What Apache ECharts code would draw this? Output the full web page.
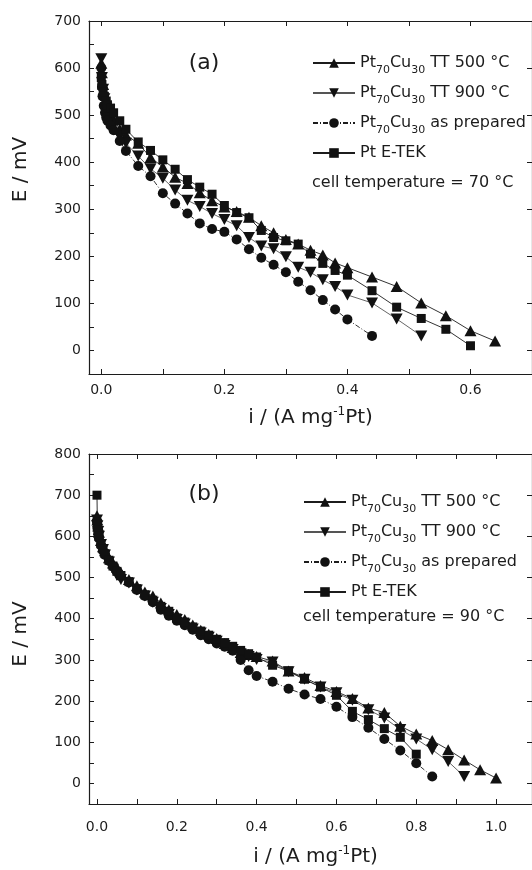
<!DOCTYPE html>
<html>
<head>
<meta charset="utf-8">
<title>Polarization curves</title>
<script src="https://cdn.jsdelivr.net/npm/echarts@6.0.0/dist/echarts.min.js"></script>
<style>
  html, body { margin: 0; padding: 0; background: #fff; }
  #chart { width: 532px; height: 870px; }
</style>
</head>
<body>
<div id="chart"></div>
<script>
// legend names, same four samples in both panels
const seriesNames = ["Pt70Cu30 TT 500 °C", "Pt70Cu30 TT 900 °C", "Pt70Cu30 as prepared", "Pt E-TEK"];
const legendRich = ["Pt{sub|70}Cu{sub|30} TT 500 °C", "Pt{sub|70}Cu{sub|30} TT 900 °C", "Pt{sub|70}Cu{sub|30} as prepared", "Pt E-TEK"];

// ---- panel (a), 70 °C ----
const xA_tt500 = [0, 0.001, 0.003, 0.005, 0.008, 0.01, 0.015, 0.02, 0.03, 0.04, 0.06, 0.08, 0.10, 0.12, 0.14, 0.16, 0.18, 0.20, 0.22, 0.24, 0.26, 0.28, 0.30, 0.32, 0.34, 0.36, 0.38, 0.40, 0.44, 0.48, 0.52, 0.56, 0.60, 0.64];
const yA_tt500 = [610, 590, 565, 545, 530, 515, 500, 490, 470, 458, 440, 410, 390, 368, 355, 335, 318, 305, 295, 283, 265, 250, 236, 226, 213, 203, 186, 176, 156, 136, 101, 74, 42, 20];
const xA_tt900 = [0, 0.001, 0.003, 0.005, 0.008, 0.01, 0.015, 0.02, 0.03, 0.04, 0.06, 0.08, 0.10, 0.12, 0.14, 0.16, 0.18, 0.20, 0.22, 0.24, 0.26, 0.28, 0.30, 0.32, 0.34, 0.36, 0.38, 0.40, 0.44, 0.48, 0.52];
const yA_tt900 = [620, 580, 555, 535, 515, 505, 490, 478, 455, 440, 413, 386, 366, 341, 319, 306, 291, 278, 265, 240, 222, 216, 199, 177, 166, 150, 136, 118, 101, 67, 31];
const xA_prep = [0, 0.001, 0.002, 0.004, 0.006, 0.008, 0.01, 0.015, 0.02, 0.03, 0.04, 0.06, 0.08, 0.10, 0.12, 0.14, 0.16, 0.18, 0.20, 0.22, 0.24, 0.26, 0.28, 0.30, 0.32, 0.34, 0.36, 0.38, 0.40, 0.44];
const yA_prep = [600, 560, 540, 520, 505, 495, 488, 478, 468, 445, 424, 392, 370, 334, 312, 291, 270, 258, 252, 236, 215, 197, 182, 166, 146, 128, 107, 87, 66, 31];
const xA_etek = [0, 0.001, 0.003, 0.005, 0.008, 0.01, 0.015, 0.02, 0.03, 0.04, 0.06, 0.08, 0.10, 0.12, 0.14, 0.16, 0.18, 0.20, 0.22, 0.24, 0.26, 0.28, 0.30, 0.32, 0.34, 0.36, 0.38, 0.40, 0.44, 0.48, 0.52, 0.56, 0.60];
const yA_etek = [580, 565, 550, 540, 530, 522, 515, 505, 488, 470, 443, 425, 405, 385, 363, 347, 332, 308, 293, 282, 255, 240, 233, 226, 205, 185, 170, 160, 127, 92, 68, 45, 10];

// ---- panel (b), 90 °C ----
const xB_tt500 = [0, 0.001, 0.003, 0.005, 0.01, 0.015, 0.02, 0.03, 0.04, 0.05, 0.06, 0.08, 0.10, 0.12, 0.14, 0.16, 0.18, 0.20, 0.22, 0.24, 0.26, 0.28, 0.30, 0.32, 0.34, 0.36, 0.38, 0.40, 0.44, 0.48, 0.52, 0.56, 0.60, 0.64, 0.68, 0.72, 0.76, 0.80, 0.84, 0.88, 0.92, 0.96, 1.00];
const yB_tt500 = [650, 640, 625, 610, 590, 575, 565, 548, 535, 525, 512, 495, 480, 465, 455, 438, 422, 410, 398, 385, 372, 362, 352, 340, 330, 318, 313, 308, 297, 273, 257, 238, 223, 206, 183, 172, 139, 120, 104, 82, 57, 33, 13];
const xB_tt900 = [0, 0.001, 0.003, 0.005, 0.01, 0.015, 0.02, 0.03, 0.04, 0.05, 0.06, 0.08, 0.10, 0.12, 0.14, 0.16, 0.18, 0.20, 0.22, 0.24, 0.26, 0.28, 0.30, 0.32, 0.34, 0.36, 0.38, 0.40, 0.44, 0.48, 0.52, 0.56, 0.60, 0.64, 0.68, 0.72, 0.76, 0.80, 0.84, 0.88, 0.92];
const yB_tt900 = [640, 625, 612, 600, 580, 568, 555, 538, 520, 505, 495, 487, 470, 455, 440, 425, 410, 398, 387, 375, 365, 355, 345, 335, 325, 315, 308, 301, 295, 271, 253, 234, 220, 202, 179, 159, 131, 108, 82, 53, 17];
const xB_prep = [0, 0.001, 0.003, 0.005, 0.01, 0.015, 0.02, 0.03, 0.04, 0.05, 0.06, 0.08, 0.10, 0.12, 0.14, 0.16, 0.18, 0.20, 0.22, 0.24, 0.26, 0.28, 0.30, 0.32, 0.34, 0.36, 0.38, 0.40, 0.44, 0.48, 0.52, 0.56, 0.60, 0.64, 0.68, 0.72, 0.76, 0.80, 0.84];
const yB_prep = [635, 620, 605, 595, 578, 565, 555, 540, 527, 515, 503, 488, 470, 455, 440, 422, 407, 395, 384, 373, 360, 350, 340, 332, 322, 300, 275, 261, 247, 230, 216, 205, 186, 161, 135, 108, 80, 49, 17];
const xB_etek = [0, 0.001, 0.003, 0.005, 0.01, 0.015, 0.02, 0.03, 0.04, 0.05, 0.06, 0.08, 0.10, 0.12, 0.14, 0.16, 0.18, 0.20, 0.22, 0.24, 0.26, 0.28, 0.30, 0.32, 0.34, 0.36, 0.38, 0.40, 0.44, 0.48, 0.52, 0.56, 0.60, 0.64, 0.68, 0.72, 0.76, 0.80];
const yB_etek = [700, 630, 615, 600, 582, 570, 558, 542, 528, 515, 505, 490, 473, 458, 445, 430, 418, 402, 392, 380, 370, 360, 350, 342, 333, 323, 315, 307, 287, 273, 253, 234, 214, 175, 155, 133, 112, 71];

// tick marks and tick labels
const xTicksA = [0, 0.1, 0.2, 0.3, 0.4, 0.5, 0.6, 0.7];
const xLabelsA = [0, 0.2, 0.4, 0.6];
const yTicksA = [0, 50, 100, 150, 200, 250, 300, 350, 400, 450, 500, 550, 600, 650, 700];
const yLabelsA = [0, 100, 200, 300, 400, 500, 600, 700];
const xTicksB = [0, 0.1, 0.2, 0.3, 0.4, 0.5, 0.6, 0.7, 0.8, 0.9, 1.0];
const xLabelsB = [0, 0.2, 0.4, 0.6, 0.8, 1.0];
const yTicksB = [0, 50, 100, 150, 200, 250, 300, 350, 400, 450, 500, 550, 600, 650, 700, 750, 800];
const yLabelsB = [0, 100, 200, 300, 400, 500, 600, 700, 800];

const FONT = "DejaVu Sans";
const INK = "#1c1c1c";
const downTri = "path://M0,0L10,0L5,9Z";

var myChart = echarts.init(document.getElementById("chart"), null, { renderer: "canvas" });

function axisBase(gridIndex, position, min, max, ticks, labels, labelMargin, fmt) {
  return {
    type: "value",
    gridIndex: gridIndex,
    position: position,
    min: min,
    max: max,
    splitLine: { show: false },
    axisLine: { show: true, onZero: false, lineStyle: { color: INK, width: 1.2 } },
    axisTick: { show: true, inside: true, length: 5, customValues: ticks, lineStyle: { color: INK, width: 1 } },
    axisLabel: labels
      ? { show: true, customValues: labels, margin: labelMargin, color: INK, fontFamily: FONT, fontSize: 14, formatter: fmt }
      : { show: false },
  };
}

function xName(gap, pad) {
  return {
    name: "i / (A mg{sup|-1}Pt)",
    nameLocation: "middle",
    nameGap: gap,
    nameTextStyle: {
      color: INK, fontFamily: FONT, fontSize: 20, lineHeight: 24, padding: pad,
      rich: { sup: { fontFamily: FONT, fontSize: 12, lineHeight: 12, verticalAlign: "top", color: INK } },
    },
  };
}

function yName(gap, pad) {
  return {
    name: "E / mV",
    nameLocation: "middle",
    nameRotate: 90,
    nameGap: gap,
    nameTextStyle: { color: INK, fontFamily: FONT, fontSize: 20, padding: pad },
  };
}

const fmtX = (v) => v.toFixed(1);
const fmtY = (v) => String(v);

const xAxes = [
  Object.assign(axisBase(0, "bottom", -0.02, 0.7, xTicksA, xLabelsA, 9, fmtX), xName(32, [0, 0, 0, 0])),
  axisBase(0, "top", -0.02, 0.7, xTicksA, null),
  Object.assign(axisBase(1, "bottom", -0.02, 1.09, xTicksB, xLabelsB, 16, fmtX), xName(41, [0, 0, 0, 10])),
  axisBase(1, "top", -0.02, 1.09, xTicksB, null),
];
const yAxes = [
  Object.assign(axisBase(0, "left", -50, 700, yTicksA, yLabelsA, 8, fmtY), yName(58, [0, 0, 0, 56])),
  axisBase(0, "right", -50, 700, yLabelsA, null),
  Object.assign(axisBase(1, "left", -50, 800, yTicksB, yLabelsB, 8, fmtY), yName(58, [0, 10, 0, 0])),
  axisBase(1, "right", -50, 800, yLabelsB, null),
];

function lineSeries(k, xs, ys, panel) {
  const styles = [
    { symbol: "triangle", size: [12, 11], line: "solid", color: INK },
    { symbol: downTri, size: [12, 11], line: "solid", color: "#555" },
    { symbol: "circle", size: 10, line: [5, 2, 1, 2], color: INK },
    { symbol: "rect", size: 9, line: "solid", color: INK },
  ];
  const s = styles[k];
  return {
    name: seriesNames[k],
    type: "line",
    xAxisIndex: panel * 2,
    yAxisIndex: panel * 2,
    data: xs.map((x, i) => [x, ys[i]]),
    symbol: s.symbol,
    symbolSize: s.size,
    showAllSymbol: true,
    itemStyle: { color: "#111" },
    lineStyle: { color: s.color, width: 0.9, type: s.line },
    emphasis: { disabled: true },
    animation: false,
  };
}

function legendDef(left, top) {
  return {
    orient: "vertical",
    left: left,
    top: top,
    padding: 0,
    itemWidth: 42,
    itemHeight: 12,
    itemGap: 4,
    selectedMode: false,
    data: seriesNames,
    formatter: (name) => legendRich[seriesNames.indexOf(name)],
    textStyle: {
      color: INK, fontFamily: FONT, fontSize: 16, lineHeight: 26,
      rich: { sub: { fontFamily: FONT, fontSize: 11, lineHeight: 11, verticalAlign: "bottom", color: INK } },
    },
  };
}

function label(text, x, y, size, align) {
  return {
    type: "text",
    x: x,
    y: y,
    style: { text: text, fill: INK, font: size + "px " + FONT, textAlign: align, textVerticalAlign: "middle" },
  };
}

myChart.setOption({
  backgroundColor: "#fff",
  animation: false,
  grid: [
    { left: 89, top: 21, width: 453, height: 353 },
    { left: 89, top: 454, width: 444, height: 367.5 },
  ],
  xAxis: xAxes,
  yAxis: yAxes,
  legend: [legendDef(312, 50), legendDef(303, 489)],
  graphic: [
    label("(a)", 204, 63, 22, "center"),
    label("(b)", 204, 494, 22, "center"),
    label("cell temperature = 70 °C", 312, 183, 16, "left"),
    label("cell temperature = 90 °C", 303, 617, 16, "left"),
  ],
  series: [
    lineSeries(0, xA_tt500, yA_tt500, 0),
    lineSeries(1, xA_tt900, yA_tt900, 0),
    lineSeries(2, xA_prep, yA_prep, 0),
    lineSeries(3, xA_etek, yA_etek, 0),
    lineSeries(0, xB_tt500, yB_tt500, 1),
    lineSeries(1, xB_tt900, yB_tt900, 1),
    lineSeries(2, xB_prep, yB_prep, 1),
    lineSeries(3, xB_etek, yB_etek, 1),
  ],
});
</script>
</body>
</html>
